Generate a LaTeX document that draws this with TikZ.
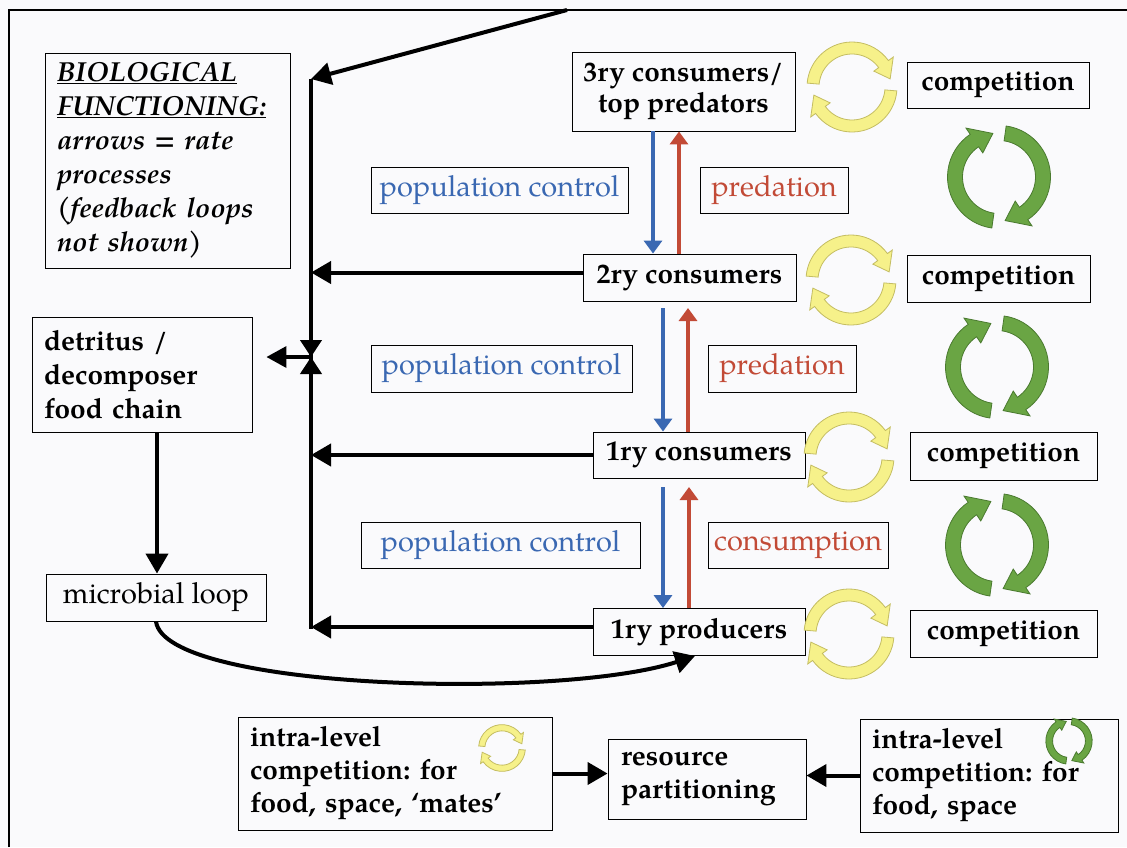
\documentclass[tikz,border=0pt]{standalone}
\usepackage{fontspec}
\setmainfont{TeX Gyre Pagella}
\usetikzlibrary{arrows.meta}
\definecolor{myblue}{HTML}{3A68B2}
\definecolor{myred}{HTML}{C24A36}
\definecolor{yfill}{HTML}{F6F18A}
\definecolor{ydraw}{HTML}{C4BD62}
\definecolor{gfill}{HTML}{6AA544}
\definecolor{gdraw}{HTML}{4A7A2F}
\definecolor{bg}{HTML}{FAFAFC}
\newcommand{\arcarrow}[8]{% A B R h H d fill draw
  \filldraw[fill=#7,draw=#8,line width=0.8pt]
    (#1:#3+#4) arc[start angle=#1,end angle=#2+#6,radius=#3+#4]
    -- (#2+#6:#3+#5) -- (#2:#3) -- (#2+#6:#3-#5) -- (#2+#6:#3-#4)
    arc[start angle=#2+#6,end angle=#1,radius=#3-#4] -- cycle;}
\newcommand{\yellowcyc}[2]{%
  \begin{scope}[shift={#1},yscale=-1,scale=#2]
    \arcarrow{175}{12}{39}{6}{12}{24}{yfill}{ydraw}
    \arcarrow{-5}{-168}{39}{6}{12}{24}{yfill}{ydraw}
  \end{scope}}
\newcommand{\greencyc}[2]{%
  \begin{scope}[shift={#1},yscale=-1,scale=#2]
    \arcarrow{262}{98}{44}{7.5}{15}{26}{gfill}{gdraw}
    \arcarrow{82}{-82}{44}{7.5}{15}{26}{gfill}{gdraw}
  \end{scope}}
\tikzset{
  box/.style={draw, line width=0.9pt, inner sep=0pt, align=center},
  lvl/.style={box, font=\frenchspacing\bfseries\fontsize{28}{31}\selectfont},
  pcbox/.style={box, text=myblue, font=\fontsize{29}{31}\selectfont},
  rdbox/.style={box, text=myred, font=\fontsize{29}{31}\selectfont},
  leftbox/.style={draw, line width=0.9pt, inner ysep=0pt, align=left, font=\frenchspacing\bfseries\fontsize{28}{33}\selectfont},
  bigarr/.style={line width=4pt, -{Triangle[length=20pt,width=22pt]}},
  tiearr/.style={line width=4pt, -{Triangle[length=17pt,width=21pt]}},
  colarr/.style={line width=3.5pt, -{Triangle[length=13pt,width=18pt]}},
}
\begin{document}
\begin{tikzpicture}[x=1pt,y=-1pt]
\useasboundingbox (0,0) rectangle (1127,847);
\fill[bg] (0,0) rectangle (1127,847);
% frame
\draw[line width=1.8pt] (9,847) -- (9,10) -- (1127,10);
% level boxes
\node[lvl, minimum width=223pt, minimum height=79pt] (top3) at (683.5,91.5) {3ry consumers/\\top predators};
\node[lvl, minimum width=213pt, minimum height=47pt] (sec) at (689.5,277.5) {2ry consumers};
\node[lvl, minimum width=212pt, minimum height=46pt] (pri) at (699,455) {1ry consumers};
\node[lvl, minimum width=212pt, minimum height=47pt] (prod) at (699,632) {1ry producers};
\node[lvl, minimum width=182pt, minimum height=46pt] (comp1) at (998,85) {competition};
\node[lvl, minimum width=183pt, minimum height=47pt] (comp2) at (998.5,278.5) {competition};
\node[lvl, minimum width=187pt, minimum height=48pt] (comp3) at (1003.5,456) {competition};
\node[lvl, minimum width=187pt, minimum height=47pt] (comp4) at (1003.5,633.5) {competition};
% process labels
\node[pcbox, minimum width=257pt, minimum height=46pt] (pc1) at (499.5,190) {population control};
\node[pcbox, minimum width=261pt, minimum height=47pt] (pc2) at (501.5,368.5) {population control};
\node[pcbox, minimum width=279pt, minimum height=46pt] (pc3) at (500.5,545) {population control};
\node[rdbox, minimum width=148pt, minimum height=46pt] (pr1) at (774,190) {predation};
\node[rdbox, minimum width=148pt, minimum height=47pt] (pr2) at (782,368.5) {predation};
\node[rdbox, minimum width=180pt, minimum height=46pt] (cons) at (798,545) {consumption};
% legend
\node[leftbox, font=\bfseries\itshape\fontsize{27.5}{34}\selectfont, inner xsep=12pt, text width=221pt, minimum height=215pt] (legend) at (167.5,160.5)
  {\underline{BIOLOGICAL}\\\underline{FUNCTIONING:}\\arrows = rate\\processes\\(feedback loops\\not shown)};
% detritus and microbial loop
\node[leftbox, font=\bfseries\fontsize{28}{34}\selectfont, inner xsep=12pt, text width=196pt, minimum height=115pt] (detr) at (142,374.5) {detritus /\\decomposer\\food chain};
\node[box, font=\fontsize{29}{31}\selectfont, minimum width=220pt, minimum height=47pt] (micro) at (156,597.5) {microbial loop};
% bottom boxes
\node[leftbox, inner xsep=12pt, text width=290pt, minimum height=113pt] (intraL) at (395,773.5) {intra-level\\competition: for\\food, space, ‘mates’};
\node[leftbox, inner xsep=13pt, text width=172pt, minimum height=80pt] (res) at (707,779) {resource\\partitioning};
\node[leftbox, inner xsep=12pt, text width=234pt, minimum height=113pt] (intraR) at (989,775.5) {intra-level\\competition: for\\food, space};
% cycle arrows
\yellowcyc{(852,87)}{1}
\yellowcyc{(851,280)}{1}
\yellowcyc{(849,457)}{1}
\yellowcyc{(849,634)}{1}
\greencyc{(999,177)}{1}
\greencyc{(997,367)}{1}
\greencyc{(997,545)}{1}
\yellowcyc{(502,748)}{0.52}
\greencyc{(1069,741)}{0.45}
% black connectors
\coordinate (ttop) at (567,10);
\coordinate (vt) at (311,79);
\coordinate (vb) at (311,629);
\coordinate (mid) at (311,357);
\coordinate (mt) at (311,330);
\coordinate (mb) at (311,384);
\coordinate (ax) at (157,0);
\coordinate (cx) at (695,0);
\draw[bigarr] (ttop) -- (vt);
\draw[line width=4pt] (vt) -- (vb);
\draw[bigarr] ([yshift=5pt]sec.west) -- ([yshift=5pt]sec.west -| vt);
\draw[bigarr] (pri.west) -- (pri.west -| vt);
\draw[bigarr] ([yshift=5pt]prod.west) -- ([yshift=5pt]prod.west -| vt);
\draw[tiearr] (mt) -- (mid);
\draw[tiearr] (mb) -- (mid);
\draw[line width=3.5pt, -{Triangle[length=20pt,width=21pt]}, shorten >=14pt] (mid) -- (detr.east |- mid);
\draw[bigarr] (detr.south -| ax) -- (micro.north -| ax);
\draw[bigarr] (micro.south) .. controls (165,690) and (560,700) .. (prod.south -| cx);
\draw[bigarr] (intraL.east) -- (res.west |- intraL.east);
\draw[bigarr] (intraR.west) -- (res.east |- intraR.west);
% coloured arrows
\coordinate (b1) at (653,0); \coordinate (r1) at (679,0);
\coordinate (b2) at (663,0); \coordinate (r2) at (688,0);
\coordinate (b3) at (663,0); \coordinate (r3) at (689,0);
\coordinate (s2) at (0,308); \coordinate (s3) at (0,487);
\draw[colarr, myblue] (top3.south -| b1) -- (sec.north -| b1);
\draw[colarr, myred] (sec.north -| r1) -- (top3.south -| r1);
\draw[colarr, myblue] (b2 |- s2) -- (pri.north -| b2);
\draw[colarr, myred] (pri.north -| r2) -- (r2 |- s2);
\draw[colarr, myblue] (b3 |- s3) -- (prod.north -| b3);
\draw[colarr, myred] (prod.north -| r3) -- (r3 |- s3);
\end{tikzpicture}
\end{document}
